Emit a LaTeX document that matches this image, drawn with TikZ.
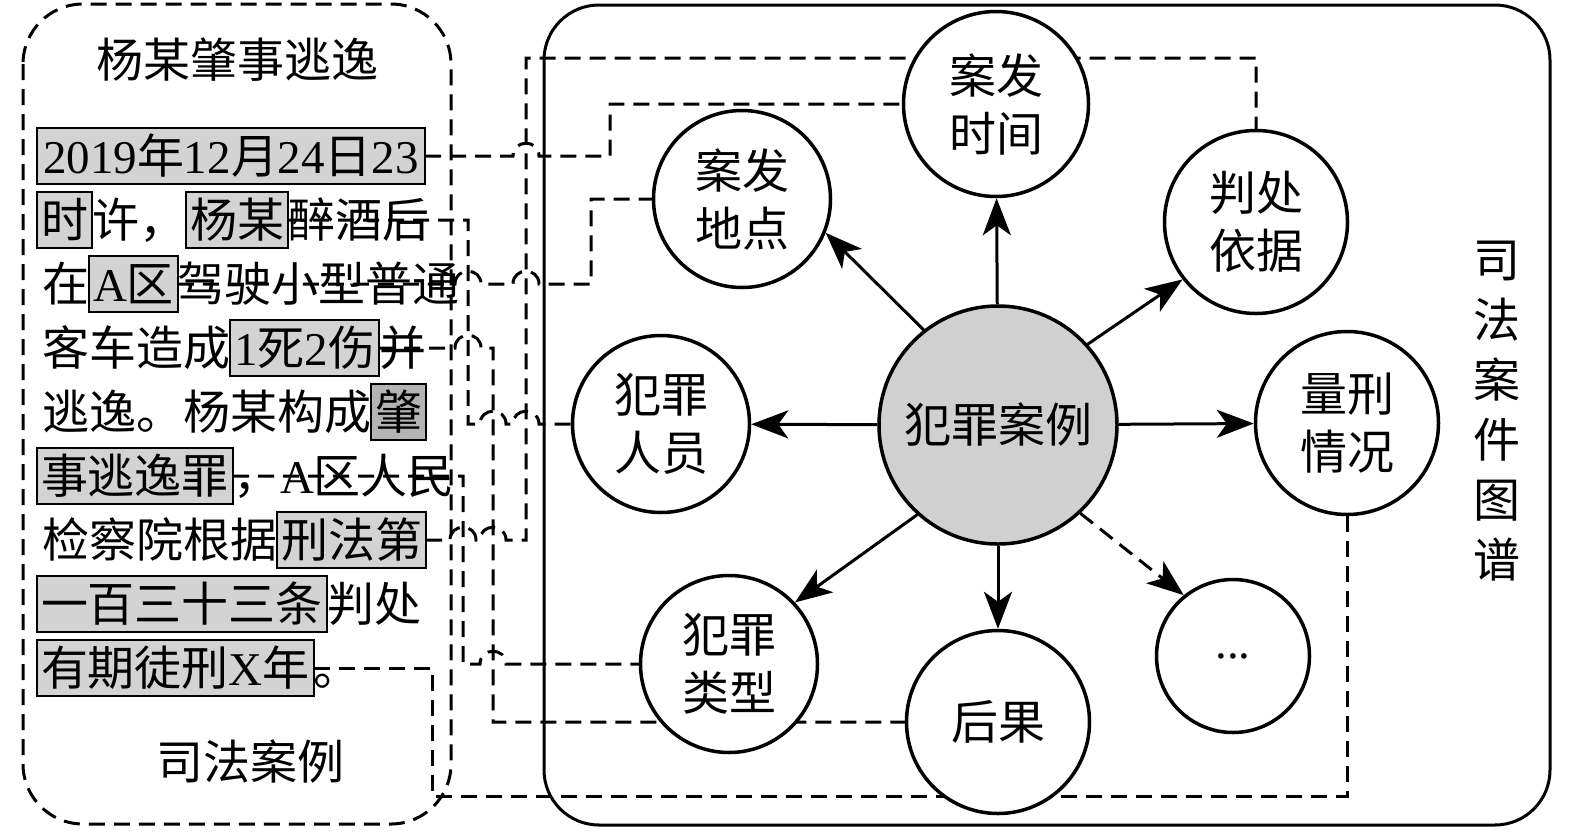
\documentclass[tikz,border=0pt]{standalone}
\usepackage{fontspec}
\setmainfont{Liberation Serif}
\newfontfamily\cjk{Noto Sans CJK SC}
\usepackage{tikz}
\usetikzlibrary{arrows.meta,positioning}
\definecolor{markgray}{HTML}{D3D3D3}
\definecolor{darkmark}{HTML}{B4B4B4}
\definecolor{coregray}{HTML}{D0D0D0}
\newcommand{\wf}[1]{{\rmfamily #1}}
\newcommand{\hopover}[2]{-- ({#1-13},{#2}) .. controls ({#1-13},{#2-17}) and ({#1+13},{#2-17}) .. ({#1+13},{#2})}
\pgfdeclarelayer{background}
\pgfsetlayers{background,main}

\begin{document}
\begin{tikzpicture}[x=1pt,y=-1pt,>={Stealth[length=37pt,width=28pt,inset=10pt]},
                    line width=3pt,font=\cjk\fontsize{47pt}{58pt}\selectfont]
  \tikzstyle{txt}=[inner xsep=0pt,inner ysep=3pt,outer sep=0pt,text height=42pt,text depth=8pt]
  \tikzstyle{hilite}=[txt,draw,fill=markgray,inner xsep=4pt,line width=2.8pt]
  \tikzstyle{entity}=[circle,draw,fill=white,line width=3.5pt,inner sep=0pt,align=center]
  \tikzstyle{link}=[line width=3pt,dash pattern=on 16pt off 9pt]
  \tikzstyle{rel}=[->,line width=3pt]

  \useasboundingbox (0,0) rectangle (1575,831);

  % judicial case text
  \node (title) at (237,60) {杨某肇事逃逸};
  \node[hilite,anchor=west,inner xsep=6pt] (date) at (37,156) {\wf{2019}年\wf{12}月\wf{24}日\wf{23}};
  \node[hilite,anchor=west] (hour) at (37,220) {时};
  \node[txt] (r2a) [right=0pt of hour] {许，};
  \node[hilite] (who) [right=0pt of r2a] {杨某};
  \node[txt] (r2b) [right=0pt of who] {醉酒后};
  \node[txt,anchor=west] (r3a) at (42,284) {在};
  \node[hilite] (where) [right=0pt of r3a] {\wf{A}区};
  \node[txt] (r3b) [right=0pt of where] {驾驶小型普通};
  \node[txt,anchor=west] (r4a) at (42,348) {客车造成};
  \node[hilite] (harm) [right=0pt of r4a] {\wf{1}死\wf{2}伤};
  \node[txt] (r4b) [right=0pt of harm] {并};
  \node[txt,anchor=west] (r5a) at (42,412) {逃逸。杨某构成};
  \node[hilite,fill=darkmark] (zhao) [right=0pt of r5a] {肇};
  \node[hilite,anchor=west] (charge) at (37,476) {事逃逸罪};
  \node[txt] (r6a) [right=0pt of charge] {，\wf{A}区人民};
  \node[txt,anchor=west] (r7a) at (42,540) {检察院根据};
  \node[hilite] (lawa) [right=0pt of r7a] {刑法第};
  \node[hilite,anchor=west] (lawb) at (37,604) {一百三十三条};
  \node[txt] (r8a) [right=0pt of lawb] {判处};
  \node[hilite,anchor=west] (prison) at (37,668) {有期徒刑\wf{X}年};
  \node[txt] (r9a) [right=0pt of prison] {。};
  \node (caselabel) at (250,762) {司法案例};

  % judicial case graph
  \node[entity,fill=coregray,minimum size=238pt] (crime) at (998,425) {犯罪案例};
  \node[entity,minimum size=185pt] (time) at (996,104) {案发\\时间};
  \node[entity,minimum size=177pt] (place) at (742,199) {案发\\地点};
  \node[entity,minimum size=183pt] (judge) at (1256,222) {判处\\依据};
  \node[entity,minimum size=177pt] (person) at (661,424) {犯罪\\人员};
  \node[entity,minimum size=183pt] (sentence) at (1347,423) {量刑\\情况};
  \node[entity,minimum size=177pt] (type) at (729,664) {犯罪\\类型};
  \node[entity,minimum size=183pt] (result) at (998,722) {后果};
  \node[entity,minimum size=153pt] (more) at (1233,656) {\wf{...}};
  \node[font=\cjk\fontsize{47pt}{60pt}\selectfont,align=center] (graphlabel) at (1497,411)
    {司\\法\\案\\件\\图\\谱};

  \path[rel] (crime) edge (time)
             (crime.128) edge (place.338)
             (crime.42) edge (judge.218)
             (crime) edge (person)
             (crime) edge (sentence)
             (crime.228) edge (type.43)
             (crime) edge (result)
             (crime.313) edge[dash pattern=on 16pt off 9pt] (more.129);

  \begin{pgfonlayer}{background}
  \draw[link,rounded corners=60pt] (23,4) rectangle (451,824);
  \draw[line width=3pt,rounded corners=55pt] (544,5) rectangle (1550,825);
  % text to graph links
  \draw[link] (date.east) \hopover{526}{156} -- (610,156) |- (time.west);
  \draw[link] (who.east) -- (468,220) -- (468,424) \hopover{493}{424} \hopover{526}{424} -- (person.west);
  \draw[link] (where.east) \hopover{468}{284} \hopover{526}{284} -- (591,284) |- (place.west);
  \draw[link] (harm.east) \hopover{468}{348} -- (493,348) -- (493,722) -- (result.west);
  \draw[link] (charge.east) -- (463,476) -- (463,664) \hopover{493}{664} -- (type.west);
  \draw[link] (lawa.east) \hopover{463}{540} \hopover{493}{540} -- (526,540) -- (526,58) -| (judge.north);
  \draw[link] (prison.east) -- (432,668) -- (432,796) -| (sentence.south);
  \end{pgfonlayer}
\end{tikzpicture}
\end{document}
